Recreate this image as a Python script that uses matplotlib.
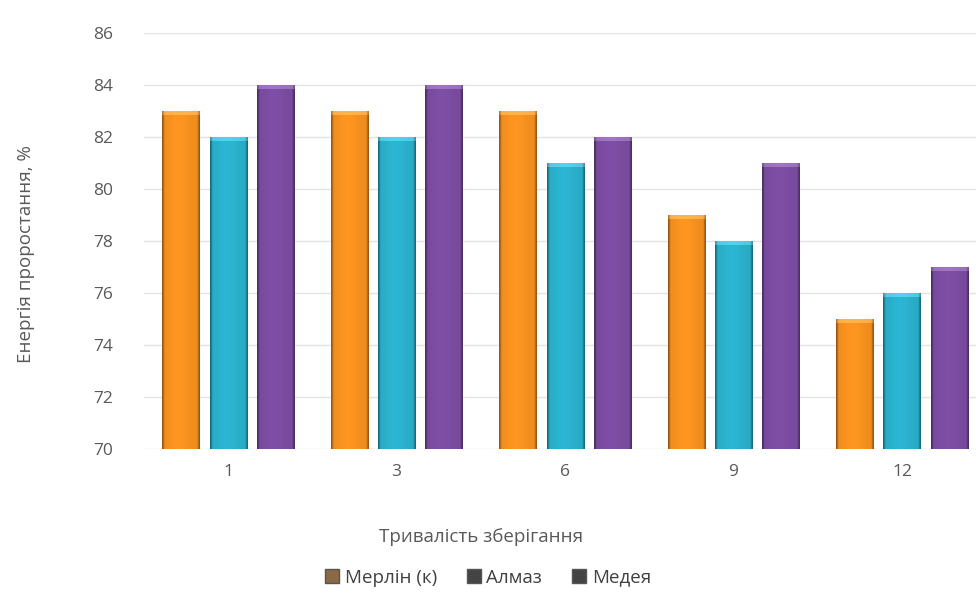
import numpy as np
import matplotlib.pyplot as plt
from matplotlib.colors import to_rgb
from matplotlib.patches import Patch

plt.rcParams['font.family'] = ['Open Sans', 'DejaVu Sans']

periods = ['1', '3', '6', '9', '12']
series_names = ['Мерлін (к)', 'Алмаз', 'Медея']
merlin = [83, 83, 83, 79, 75]
almaz = [82, 82, 81, 78, 76]
medeya = [84, 84, 82, 81, 77]
colors = ['#F5901F', '#2AAFCB', '#7A4CA0']

fig = plt.figure(figsize=(9.76, 6.12), dpi=100)
ax = fig.add_axes([0.1475, 0.2663, 0.863, 0.6797])

ymin, ymax = 70, 86
x = np.arange(len(periods))
width = 0.22
step = 0.28
cap_h = 0.14

# horizontal shading profile: darker rims, slightly brighter middle
u = np.linspace(0, 1, 80)
shade = 0.97 + 0.07 * np.exp(-((u - 0.45) / 0.3) ** 2)
shade[:3] = 0.62
shade[-3:] = 0.62
shade[3:5] = 0.82
shade[-5:-3] = 0.82


def shaded_bar(x0, top, color):
    base = np.array(to_rgb(color))
    rows = np.clip(base[None, :] * shade[:, None], 0, 1)
    body = rows[None, :, :]
    ax.imshow(body, extent=[x0, x0 + width, ymin, top - cap_h], origin='lower',
              aspect='auto', interpolation='bilinear', zorder=3)
    cap = np.clip(rows * 0.9 + 0.18, 0, 1)[None, :, :]
    ax.imshow(cap, extent=[x0, x0 + width, top - cap_h, top], origin='lower',
              aspect='auto', interpolation='bilinear', zorder=3)


for i, (vals, col) in enumerate(zip([merlin, almaz, medeya], colors)):
    for xi, v in zip(x, vals):
        cx = xi + (i - 1) * step
        shaded_bar(cx - width / 2, v, col)

ax.set_xlim(-0.5, len(periods) - 0.5)
ax.set_ylim(ymin, ymax)
ax.set_yticks(np.arange(70, 87, 2))
ax.set_xticks(x)
ax.set_xticklabels(periods)
ax.grid(axis='y', color='#E3E3E3', lw=1, zorder=0)
for s in ax.spines.values():
    s.set_visible(False)
ax.tick_params(length=0, colors='#595959', labelsize=12.5)
ax.tick_params(axis='y', pad=22)
ax.tick_params(axis='x', pad=11)

fig.text(0.027, 0.585, 'Енергія проростання, %', rotation=90,
         ha='center', va='center', fontsize=13.5, color='#595959')
fig.text(0.493, 0.122, 'Тривалість зберігання', ha='center', va='center',
         fontsize=13.5, color='#595959')

handles = [Patch(facecolor=c, edgecolor='#555555') for c in ['#8A6A45', '#444444', '#444444']]
fig.legend(handles, series_names, loc='center', bbox_to_anchor=(0.5, 0.056),
           ncol=3, frameon=False, fontsize=13.5, handlelength=0.75, handleheight=0.75,
           handletextpad=0.3, columnspacing=1.6, labelcolor='#404040')

fig.savefig('out.png', dpi=100)
